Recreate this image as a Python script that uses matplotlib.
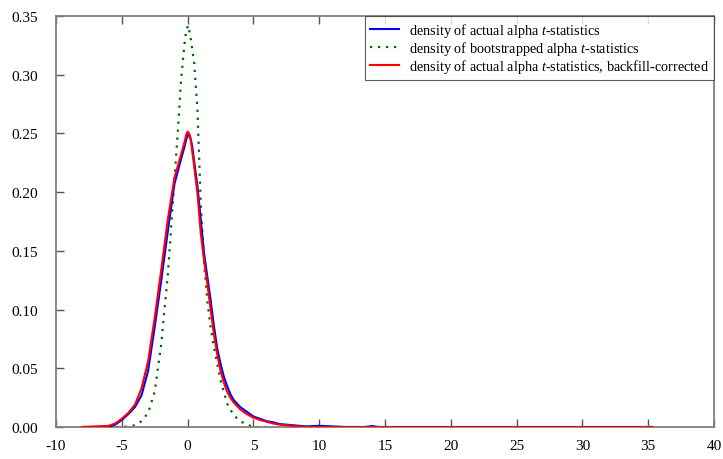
import matplotlib
matplotlib.use("Agg")
import matplotlib.pyplot as plt

# ---- data ----
x_actual = [-8, -6, -5.5, -5, -4.5, -4, -3.5, -3, -2.5, -2, -1.5, -1, -0.5, -0.25, -0.1, 0.05,
            0.2, 0.35, 0.5, 0.75, 1.0, 1.25, 1.5, 1.75, 2, 2.25, 2.5, 2.75, 3, 3.25, 3.5, 4, 4.5,
            5, 5.5, 6, 6.5, 7, 8, 9, 10, 11, 12, 13.5, 14, 14.5, 35.3]
y_actual = [0, 0, 0.002, 0.006, 0.011, 0.017, 0.027, 0.048, 0.085, 0.125, 0.167, 0.207, 0.228, 0.238, 0.245, 0.249,
            0.247, 0.239, 0.226, 0.205, 0.177, 0.148, 0.128, 0.108, 0.086, 0.067, 0.054, 0.043, 0.035, 0.028, 0.023, 0.017, 0.013,
            0.009, 0.007, 0.005, 0.004, 0.0025, 0.0015, 0.0005, 0.001, 0.0005, 0, 0, 0.0008, 0, 0]

x_boot = [-6, -5, -4.5, -4, -3.5, -3, -2.5, -2, -1.5, -1, -0.75, -0.5, -0.25, -0.1, 0.05, 0.25, 0.5,
          0.75, 1.0, 1.25, 1.5, 1.75, 2, 2.5, 3, 3.5, 4, 4.5, 5, 6]
y_boot = [0, 0, 0.0005, 0.0015, 0.005, 0.012, 0.03, 0.071, 0.13, 0.21, 0.25, 0.295, 0.325, 0.338, 0.342, 0.33, 0.31,
          0.27, 0.19, 0.14, 0.107, 0.085, 0.068, 0.04, 0.02, 0.01, 0.005, 0.002, 0, 0]

x_corr = [-8, -6, -5.5, -5, -4.5, -4, -3.5, -3, -2.5, -2, -1.5, -1, -0.5, -0.25, -0.1, 0.0, 0.12, 0.25,
          0.5, 0.75, 1.0, 1.25, 1.5, 1.75, 2, 2.25, 2.5, 2.75, 3, 3.25, 3.5, 4, 4.5, 5,
          5.5, 6, 6.5, 7, 8, 9, 35.3]
y_corr = [0, 0.001, 0.003, 0.007, 0.012, 0.019, 0.033, 0.056, 0.093, 0.134, 0.177, 0.212, 0.232, 0.242, 0.249, 0.2515, 0.25, 0.244,
          0.222, 0.199, 0.165, 0.142, 0.122, 0.100, 0.079, 0.062, 0.048, 0.038, 0.030, 0.025, 0.021, 0.015, 0.011, 0.008,
          0.006, 0.0045, 0.003, 0.002, 0.001, 0, 0]

labels = ["density of actual alpha $t$-statistics",
          "density of bootstrapped alpha $t$-statistics",
          "density of actual alpha $t$-statistics, backfill-corrected"]
x_ticks = [-10, -5, 0, 5, 10, 15, 20, 25, 30, 35, 40]
y_ticks = [0.00, 0.05, 0.10, 0.15, 0.20, 0.25, 0.30, 0.35]

plt.rcParams['font.family'] = ['Liberation Serif', 'DejaVu Serif']
plt.rcParams['mathtext.fontset'] = 'custom'
plt.rcParams['mathtext.rm'] = 'Liberation Serif'
plt.rcParams['mathtext.it'] = 'Liberation Serif:italic'

fig = plt.figure(figsize=(7.23, 4.6), dpi=100)
ax = fig.add_axes([56/723, 1 - 428/460, (714 - 56)/723, (428 - 17)/460])

ax.plot(x_actual, y_actual, color='#0000ff', lw=1.5, label=labels[0], zorder=3)
ax.plot(x_boot, y_boot, color='#006400', lw=1.6, linestyle=(0, (1, 2.6)), label=labels[1], zorder=2)
ax.plot(x_corr, y_corr, color='#ff0000', lw=1.5, label=labels[2], zorder=4)

ax.set_xlim(-10, 40)
ax.set_ylim(0, 0.35)
ax.set_xticks(x_ticks)
ax.set_xticklabels([str(v) for v in x_ticks])
ax.set_yticks(y_ticks)
ax.set_yticklabels([f"{v:.2f}" for v in y_ticks])

for s in ax.spines.values():
    s.set_color('#808080')
    s.set_linewidth(1.3)

ax.tick_params(axis='both', direction='in', length=6, width=1, color='#555555',
               labelsize=11, pad=9, top=True, right=False)
ax.tick_params(axis='y', pad=13)

leg = ax.legend(loc='upper right', borderaxespad=0, prop={'size': 10.3}, frameon=True,
                fancybox=False, handlelength=2.0, handletextpad=0.7,
                borderpad=0.35, labelspacing=0.0)
leg.get_frame().set_edgecolor('#333333')
leg.get_frame().set_linewidth(0.8)

fig.savefig("out.png", dpi=100)
